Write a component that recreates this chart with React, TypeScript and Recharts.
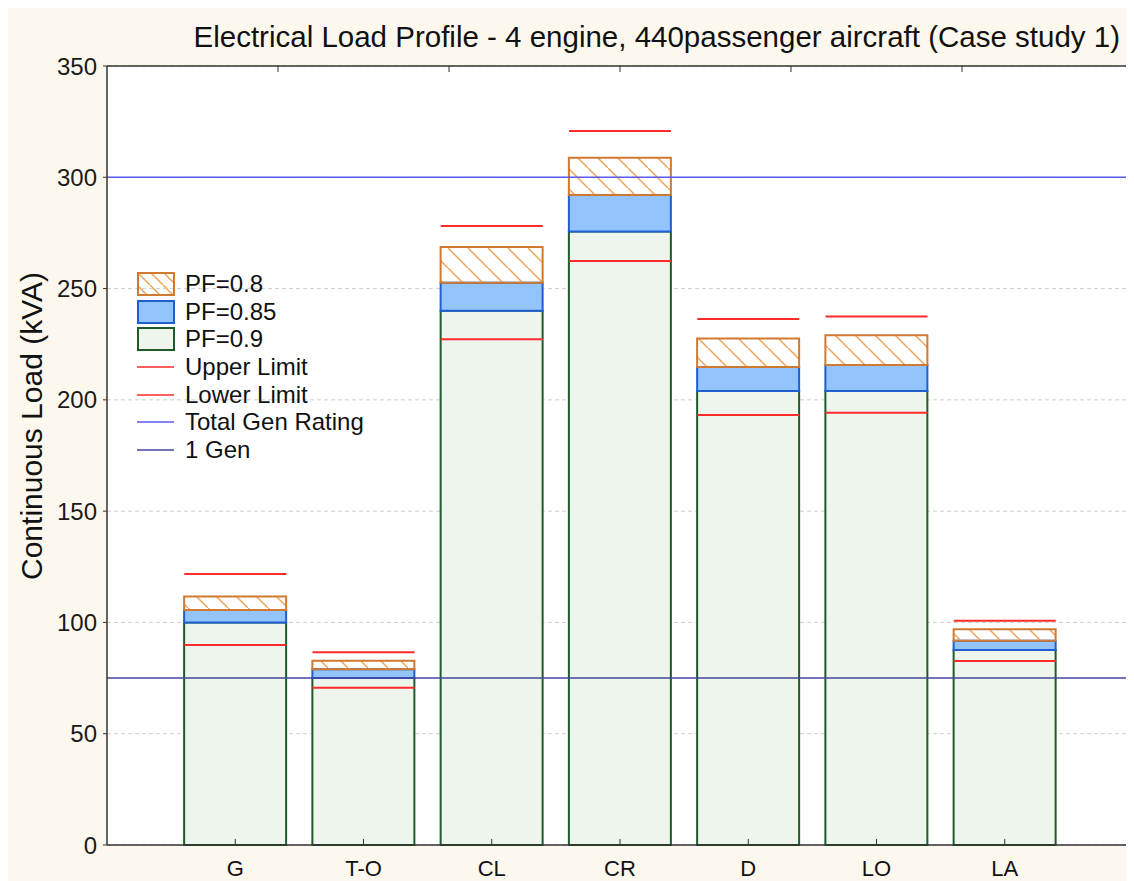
import React from 'react';
import {
  ComposedChart,
  Bar,
  Scatter,
  XAxis,
  YAxis,
  CartesianGrid,
  ReferenceLine,
  Legend,
} from 'recharts';

// Flight phases
const categories = ['G', 'T-O', 'CL', 'CR', 'D', 'LO', 'LA'];

// Continuous load (kVA) at each power factor
const loadPf09 = [100, 75, 240, 275.6, 204, 204, 87.6];
const loadPf085 = [105.6, 79, 252.6, 292, 214.8, 215.7, 91.8];
const loadPf08 = [111.6, 82.8, 268.7, 308.8, 227.6, 229, 96.9];

const upperLimit = [121.8, 86.6, 278.1, 320.8, 236.3, 237.5, 100.8];
const lowerLimit = [89.9, 70.7, 227.2, 262.4, 193.2, 194.2, 82.7];

const totalGenRating = 300;
const oneGenRating = 75;

const yTicks = [0, 50, 100, 150, 200, 250, 300, 350];
const xTicks = categories.map((_, i) => i + 1);

const FONT = '"Liberation Sans", Arial, sans-serif';
const BAR_W = 102;

const COLORS = {
  pf08Stroke: '#cf7a30',
  pf08Hatch: '#f2a257',
  pf085Fill: '#93c4fb',
  pf085Stroke: '#1f5fd1',
  pf09Fill: '#eef5ec',
  pf09Stroke: '#1f5a2a',
  limit: '#ff2b2b',
  totalGen: '#5a5af2',
  oneGen: '#45459e',
};

// stacked segments are the increments between power factors
const chartData = categories.map((name, i) => ({
  pos: i + 1,
  name,
  pf09: loadPf09[i],
  pf085: loadPf085[i] - loadPf09[i],
  pf08: loadPf08[i] - loadPf085[i],
  upper: upperLimit[i],
  lower: lowerLimit[i],
}));

const LimitMark = (props: any) => {
  const { cx, cy } = props;
  if (cx == null || cy == null) return null;
  return (
    <line
      x1={cx - BAR_W / 2}
      x2={cx + BAR_W / 2}
      y1={cy}
      y2={cy}
      stroke={COLORS.limit}
      strokeWidth={2}
    />
  );
};

const BottomTick = (props: any) => {
  const { x, y, payload } = props;
  return (
    <g>
      <line x1={x} x2={x} y1={y} y2={y - 6} stroke="#333" />
      <text x={x} y={y + 31} textAnchor="middle" fontSize={22} fill="#111" fontFamily={FONT}>
        {categories[payload.value - 1]}
      </text>
    </g>
  );
};

const TopTick = (props: any) => {
  const { x, y } = props;
  return <line x1={x} x2={x} y1={y} y2={y + 6} stroke="#333" />;
};

const legendItems = [
  { label: 'PF=0.8', kind: 'hatch' },
  { label: 'PF=0.85', kind: 'box', fill: COLORS.pf085Fill, stroke: COLORS.pf085Stroke },
  { label: 'PF=0.9', kind: 'box', fill: COLORS.pf09Fill, stroke: COLORS.pf09Stroke },
  { label: 'Upper Limit', kind: 'line', stroke: COLORS.limit },
  { label: 'Lower Limit', kind: 'line', stroke: COLORS.limit },
  { label: 'Total Gen Rating', kind: 'line', stroke: COLORS.totalGen },
  { label: '1 Gen', kind: 'line', stroke: COLORS.oneGen },
];

const renderLegend = () => (
  <div style={{ fontFamily: FONT, fontSize: 24, color: '#111' }}>
    {legendItems.map((item) => (
      <div key={item.label} style={{ display: 'flex', alignItems: 'center', height: 27.7 }}>
        <svg width={38} height={24} style={{ display: 'block' }}>
          {item.kind === 'hatch' && (
            <>
              <defs>
                <pattern id="hatchLegend" patternUnits="userSpaceOnUse" width={13} height={13}>
                  <line x1={0} y1={0} x2={13} y2={13} stroke={COLORS.pf08Hatch} strokeWidth={1.5} />
                </pattern>
              </defs>
              <rect x={1} y={1} width={36} height={22} fill="url(#hatchLegend)" stroke={COLORS.pf08Stroke} strokeWidth={2} />
            </>
          )}
          {item.kind === 'box' && (
            <rect x={1} y={1} width={36} height={22} fill={item.fill} stroke={item.stroke} strokeWidth={2} />
          )}
          {item.kind === 'line' && <line x1={0} x2={37} y1={12} y2={12} stroke={item.stroke} strokeWidth={1.5} />}
        </svg>
        <span style={{ marginLeft: 10, whiteSpace: 'nowrap' }}>{item.label}</span>
      </div>
    ))}
  </div>
);

export default function App() {
  return (
    <div
      style={{
        position: 'relative',
        width: 1126,
        height: 873,
        background: '#fdf8ee',
        fontFamily: FONT,
      }}
    >
      <div
        style={{
          position: 'absolute',
          right: 14,
          top: 12,
          fontSize: 29.5,
          color: '#111',
          whiteSpace: 'nowrap',
        }}
      >
        Electrical Load Profile - 4 engine, 440passenger aircraft (Case study 1)
      </div>
      <div
        style={{
          position: 'absolute',
          left: 24,
          top: 418,
          fontSize: 30,
          color: '#111',
          whiteSpace: 'nowrap',
          transform: 'translate(-50%, -50%) rotate(-90deg)',
        }}
      >
        Continuous Load (kVA)
      </div>
      <ComposedChart
        width={1126}
        height={873}
        data={chartData}
        margin={{ top: 57, right: 1, bottom: 6, left: 39 }}
        style={{ position: 'absolute', left: 0, top: 0 }}
      >
        <defs>
          <pattern id="hatchPf08" patternUnits="userSpaceOnUse" width={20} height={20}>
            <line x1={0} y1={0} x2={20} y2={20} stroke={COLORS.pf08Hatch} strokeWidth={1.5} />
          </pattern>
        </defs>
        <CartesianGrid vertical={false} strokeDasharray="4 3" stroke="#cfcfcf" fill="#ffffff" />
        <XAxis
          dataKey="pos"
          type="number"
          domain={[0, 8]}
          ticks={xTicks}
          interval={0}
          height={30}
          tickSize={0}
          tickMargin={0}
          tickLine={false}
          tick={<BottomTick />}
          axisLine={{ stroke: '#333', strokeWidth: 1.5 }}
        />
        <XAxis
          xAxisId="top"
          orientation="top"
          type="number"
          domain={[0, 8]}
          ticks={xTicks}
          interval={0}
          height={1}
          tickSize={0}
          tickMargin={0}
          tickLine={false}
          tick={<TopTick />}
          axisLine={{ stroke: '#333', strokeWidth: 1.5 }}
        />
        <YAxis
          type="number"
          domain={[0, 350]}
          ticks={yTicks}
          interval={0}
          width={60}
          tickSize={4}
          tickMargin={6}
          tick={{ fontSize: 24, fill: '#1a1a1a', fontFamily: FONT }}
          tickLine={{ stroke: '#333' }}
          axisLine={{ stroke: '#333', strokeWidth: 1.5 }}
        />
        <Bar
          dataKey="pf09"
          stackId="load"
          barSize={BAR_W}
          fill={COLORS.pf09Fill}
          stroke={COLORS.pf09Stroke}
          strokeWidth={2}
          isAnimationActive={false}
        />
        <Bar
          dataKey="pf085"
          stackId="load"
          barSize={BAR_W}
          fill={COLORS.pf085Fill}
          stroke={COLORS.pf085Stroke}
          strokeWidth={2}
          isAnimationActive={false}
        />
        <Bar
          dataKey="pf08"
          stackId="load"
          barSize={BAR_W}
          fill="url(#hatchPf08)"
          stroke={COLORS.pf08Stroke}
          strokeWidth={2}
          isAnimationActive={false}
        />
        <Scatter dataKey="upper" shape={<LimitMark />} isAnimationActive={false} />
        <Scatter dataKey="lower" shape={<LimitMark />} isAnimationActive={false} />
        <ReferenceLine y={totalGenRating} stroke={COLORS.totalGen} strokeWidth={1.5} />
        <ReferenceLine y={oneGenRating} stroke={COLORS.oneGen} strokeWidth={1.5} />
        <ReferenceLine x={8} stroke="#9a9a9a" strokeWidth={1.5} />
        <Legend
          layout="horizontal"
          verticalAlign="middle"
          align="center"
          content={renderLegend}
          wrapperStyle={{ left: 129, top: 262, width: 280, height: 200 }}
        />
      </ComposedChart>
    </div>
  );
}
